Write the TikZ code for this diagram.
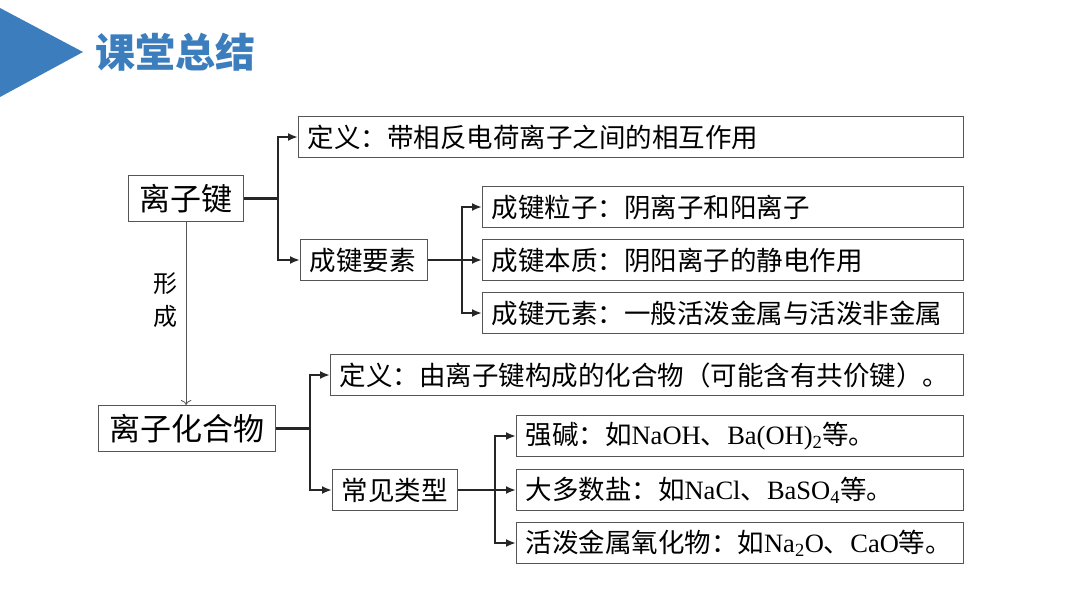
\documentclass[tikz,border=0pt]{standalone}
\usepackage{fontspec}
\setmainfont{Liberation Serif}
\newfontfamily\cjk{Noto Sans CJK SC}
\newcommand\zh[1]{{\cjk #1}}
\usetikzlibrary{arrows.meta,positioning}
\definecolor{titleblue}{HTML}{3C7DBD}
\definecolor{framegray}{HTML}{555555}
\tikzset{
  >={Latex[length=10pt,width=8pt]},
  box/.style={draw=framegray,line width=1.2pt,inner xsep=9pt,inner ysep=0pt,font=\fontsize{26.5}{29}\selectfont},
  leaf/.style={box,anchor=west,minimum height=41pt,align=left},
  root/.style={draw=framegray,line width=1.2pt,inner xsep=9pt,inner ysep=0pt,minimum height=46pt,anchor=north west,font=\fontsize{31}{34}\selectfont},
  link/.style={line width=2.5pt,black!85},
}
\begin{document}
\begin{tikzpicture}[x=1pt,y=-1pt]
\useasboundingbox[fill=white] (0,0) rectangle (1080,608);
% title
\fill[titleblue] (0,8) -- (83,52) -- (0,97) -- cycle;
\node[anchor=west,text=titleblue,font=\cjk\bfseries\fontsize{40}{40}\selectfont] (title) at (92,52) {课堂总结};
% ionic bond
\node[root,minimum width=115pt] (ionbond) at (128,175) {\zh{离子键}};
\node[leaf,text width=647pt] (def1) at (298,137) {\zh{定义：带相反电荷离子之间的相互作用}};
\node[leaf,text width=109pt] (elem) at (300,260) {\zh{成键要素}};
\node[leaf,text width=463pt] (part) at (482,207) {\zh{成键粒子：阴离子和阳离子}};
\node[leaf,text width=463pt] (nature) at (482,260) {\zh{成键本质：阴阳离子的静电作用}};
\node[leaf,text width=463pt] (element) at (482,313) {\zh{成键元素：一般活泼金属与活泼非金属}};
% ionic compound
\node[root,minimum width=177pt] (compound) at (98,405) {\zh{离子化合物}};
\node[leaf,text width=615pt] (def2) at (330,375) {\zh{定义：由离子键构成的化合物（可能含有共价键）。}};
\node[leaf,text width=107pt] (types) at (332,490) {\zh{常见类型}};
\node[leaf,text width=429pt] (base) at (516,436) {\zh{强碱：如}NaOH\zh{、}Ba(OH)\textsubscript{2}\zh{等。}};
\node[leaf,text width=429pt] (salt) at (516,490) {\zh{大多数盐：如}NaCl\zh{、}BaSO\textsubscript{4}\zh{等。}};
\node[leaf,text width=429pt] (oxide) at (516,543) {\zh{活泼金属氧化物：如}Na\textsubscript{2}O\zh{、}CaO\zh{等。}};
% forks
\coordinate (fork1) at (278,0);
\coordinate (fork2) at (462,0);
\coordinate (fork3) at (310,0);
\coordinate (fork4) at (495,0);
\draw[link] (ionbond.east) -- (ionbond.east -| fork1);
\draw[link,->] (ionbond.east -| fork1) |- (def1.west);
\draw[link,->] (ionbond.east -| fork1) |- (elem.west);
\draw[link,->] (elem.east) -- (elem.east -| nature.west);
\draw[link,->] (elem.east -| fork2) |- (part.west);
\draw[link,->] (elem.east -| fork2) |- (element.west);
\draw[link] (compound.east) -- (compound.east -| fork3);
\draw[link,->] (compound.east -| fork3) |- (def2.west);
\draw[link,->] (compound.east -| fork3) |- (types.west);
\draw[link,->] (types.east) -- (types.east -| salt.west);
\draw[link,->] (types.east -| fork4) |- (base.west);
\draw[link,->] (types.east -| fork4) |- (oxide.west);
% forming
\draw[framegray,line width=0.8pt,-{To[length=5pt]}] (ionbond.south) -- (ionbond.south |- compound.north);
\node[align=center,font=\cjk\fontsize{24}{33}\selectfont] (form) at (165,300) {形\\成};
\end{tikzpicture}
\end{document}
